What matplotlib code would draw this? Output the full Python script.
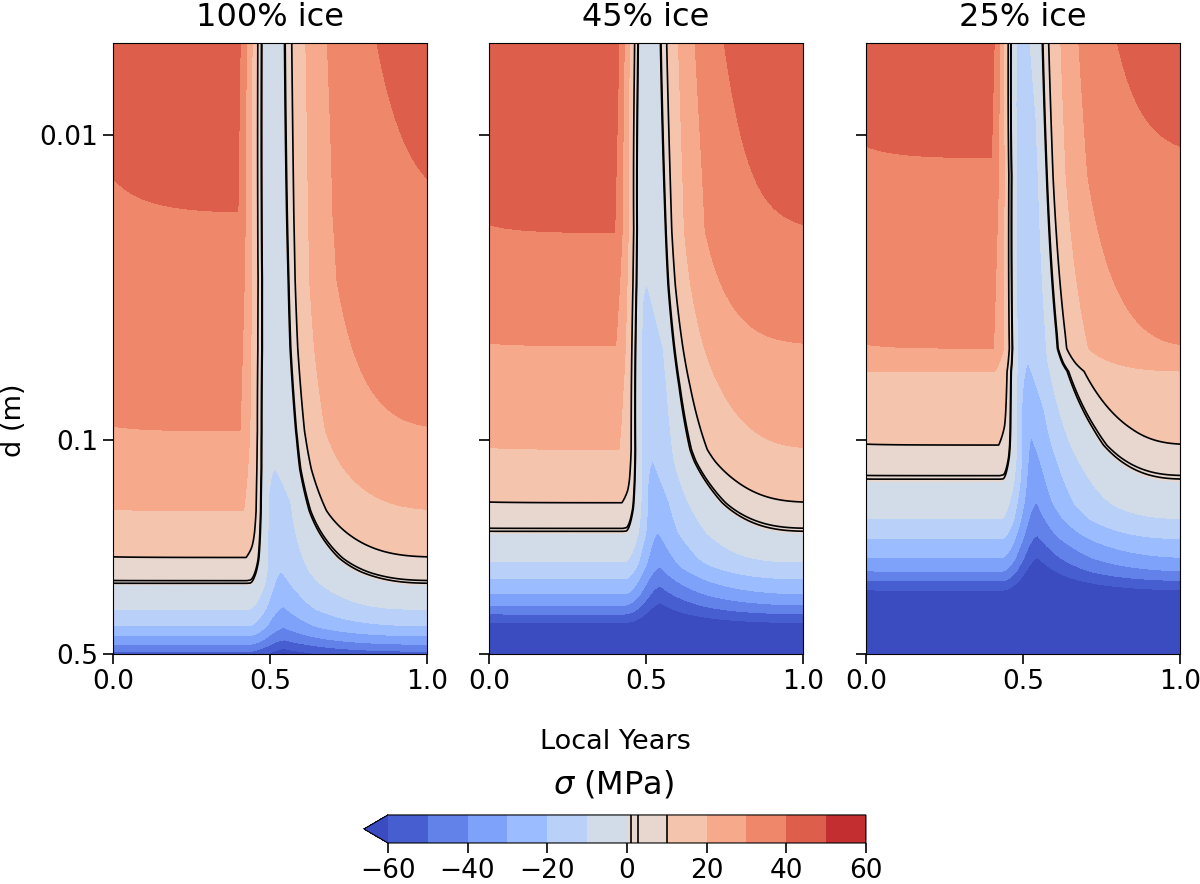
import numpy as np
import matplotlib
matplotlib.use("Agg")
import matplotlib.pyplot as plt
from matplotlib.ticker import NullLocator

# ---------------- data ----------------
titles = ["100% ice", "45% ice", "25% ice"]
fill_levels = np.arange(-60, 61, 10)
line_levels = [1.0, 2.7, 10.0]
cbar_ticks = [-60, -40, -20, 0, 20, 40, 60]
x_ticks = [0.0, 0.5, 1.0]
x_ticklabels = ["0.0", "0.5", "1.0"]
y_ticks = [0.01, 0.1, 0.5]
y_ticklabels = ["0.01", "0.1", "0.5"]

# stress profile away from the event (left plateau): level (MPa) reached at depth (m)
eq_sigma = [
    [44.5, 40, 30, 20, 10, 0, -10, -20, -30, -40, -50, -54],
    [49.5, 40, 30, 20, 10, 0, -10, -20, -30, -40, -50, -60, -85],
    [45.5, 40, 30, 20, 10, 0, -10, -20, -30, -40, -50, -60, -100],
]
eq_depth = [
    [0.005, 0.018, 0.093, 0.17, 0.2417, 0.297, 0.357, 0.404, 0.436, 0.465, 0.49, 0.5],
    [0.005, 0.0209, 0.049, 0.107, 0.16, 0.201, 0.25, 0.284, 0.318, 0.346, 0.37, 0.395, 0.5],
    [0.005, 0.0119, 0.05, 0.0594, 0.1036, 0.136, 0.18, 0.21, 0.242, 0.268, 0.288, 0.309, 0.5],
]
# stress profile at the event (tip of each band in the spike)
ev_sigma = [
    [-5, -6, -10, -20, -30, -40, -50, -60, -66],
    [-5, -10, -20, -30, -40, -50, -60, -90],
    [-14, -20, -30, -40, -50, -60, -110],
]
ev_depth = [
    [0.005, 0.05, 0.124, 0.27, 0.35, 0.41, 0.45, 0.48, 0.5],
    [0.005, 0.031, 0.117, 0.2, 0.26, 0.3, 0.34, 0.5],
    [0.005, 0.056, 0.098, 0.16, 0.205, 0.242, 0.5],
]
# timing of drop / recovery, versus depth scaled by the depth of the zero contour
z_nodes = [0.01, 0.1, 0.33, 0.67, 0.83, 1.0, 1.2, 1.7, 2.5]
drop_start = [0.395, 0.400, 0.405, 0.420, 0.424, 0.426, 0.43, 0.43, 0.43]
drop_end = [0.485, 0.488, 0.490, 0.500, 0.508, 0.515, 0.52, 0.52, 0.52]
recov_start = [0.535, 0.545, 0.560, 0.570, 0.575, 0.580, 0.585, 0.59, 0.59]
recov_tau = [0.14, 0.10, 0.09, 0.10, 0.11, 0.12, 0.13, 0.14, 0.14]
comp_start = [0.40, 0.42, 0.43, 0.44, 0.44, 0.435, 0.43, 0.43, 0.43]
comp_peak = [0.48, 0.50, 0.515, 0.525, 0.535, 0.54, 0.545, 0.548, 0.548]
comp_len = [0.32, 0.40, 0.50, 0.52, 0.50, 0.50, 0.46, 0.55, 0.65]
JUMP = 3.0        # MPa jump in stress at the tensile/compressive transition
JUMP_WIDTH = 2.0  # MPa over which the jump happens


def field(T, D, es, ed, vs, vd):
    es = np.asarray(es, float); vs = np.asarray(vs, float)
    to_x = lambda s: np.where(s > 0, s - JUMP, s)
    lx = np.log10(D)
    xeq = np.interp(lx, np.log10(ed), to_x(es))
    xev = np.interp(lx, np.log10(vd), to_x(vs))
    d0 = ed[list(es).index(0)]
    P = np.maximum(xeq, 0)
    N = np.minimum(xeq, 0)
    E = np.minimum(xev - N, 0)
    z = D / d0
    g = lambda a: np.interp(z, z_nodes, a)
    ta, tb, tc, tp = g(drop_start), g(drop_end), g(recov_start), g(recov_tau)
    an, bn, ln = g(comp_start), g(comp_peak), g(comp_len)
    tail_p = 1 - np.exp(-(T + 1 - tc) / tp)
    drop = np.clip((tb - T) / (tb - ta), 0, 1)
    rec = 1 - np.exp(-np.clip(T - tc, 0, None) / tp)
    Wp = np.where(T < tb, tail_p * drop, np.where(T < tc, 0.0, rec))
    decay = lambda dt: np.clip(1 - dt / ln, 0, 1) ** 3
    tail_n = decay(T + 1 - bn)
    s = np.clip((T - an) / (bn - an), 0, 1)
    rise = s * s * (3 - 2 * s)
    Gn = np.where(T < bn, tail_n + (1 - tail_n) * rise, decay(np.clip(T - bn, 0, None)))
    X = N + P * Wp + E * Gn
    return X + JUMP * np.clip(X / JUMP_WIDTH, 0, 1)


t = np.linspace(0, 1, 801)
d = np.logspace(np.log10(0.005), np.log10(0.5), 600)
T, D = np.meshgrid(t, d)

fig = plt.figure(figsize=(12, 8.84), dpi=100)
lefts = [0.0942, 0.4075, 0.7217]
axes = [fig.add_axes([l, 0.2602, 0.2617, 0.6912]) for l in lefts]

cf = cl = None
for i, ax in enumerate(axes):
    S = field(T, D, eq_sigma[i], eq_depth[i], ev_sigma[i], ev_depth[i])
    cf = ax.contourf(T, D, S, levels=fill_levels, cmap="coolwarm", extend="min")
    cl = ax.contour(T, D, S, levels=line_levels, colors="k", linewidths=1.2)
    ax.set_yscale("log")
    ax.set_ylim(0.5, 0.005)
    ax.set_xlim(0, 1)
    ax.set_yticks(y_ticks)
    ax.yaxis.set_minor_locator(NullLocator())
    if i == 0:
        ax.set_yticklabels(y_ticklabels)
    else:
        ax.set_yticklabels([])
    ax.set_xticks(x_ticks)
    ax.set_xticklabels(x_ticklabels)
    ax.tick_params(labelsize=19, length=7, width=1.2)
    ax.set_title(titles[i], fontsize=23, pad=12)

fig.text(615 / 1200, 1 - 742 / 884, "Local Years", ha="center", va="center", fontsize=19.5)
fig.text(14 / 1200, 1 - 420 / 884, "d (m)", ha="center", va="center", rotation=90, fontsize=19.5)

cax = fig.add_axes([0.3033, 0.0464, 0.4183, 0.0317])
cb = fig.colorbar(cf, cax=cax, orientation="horizontal", ticks=cbar_ticks)
cb.add_lines(cl)
cb.ax.tick_params(labelsize=19, length=7, width=1.2)
fig.text(614 / 1200, 1 - 785 / 884, r"$\sigma$ (MPa)", ha="center", va="center", fontsize=23)

fig.savefig("out.png", dpi=100)
